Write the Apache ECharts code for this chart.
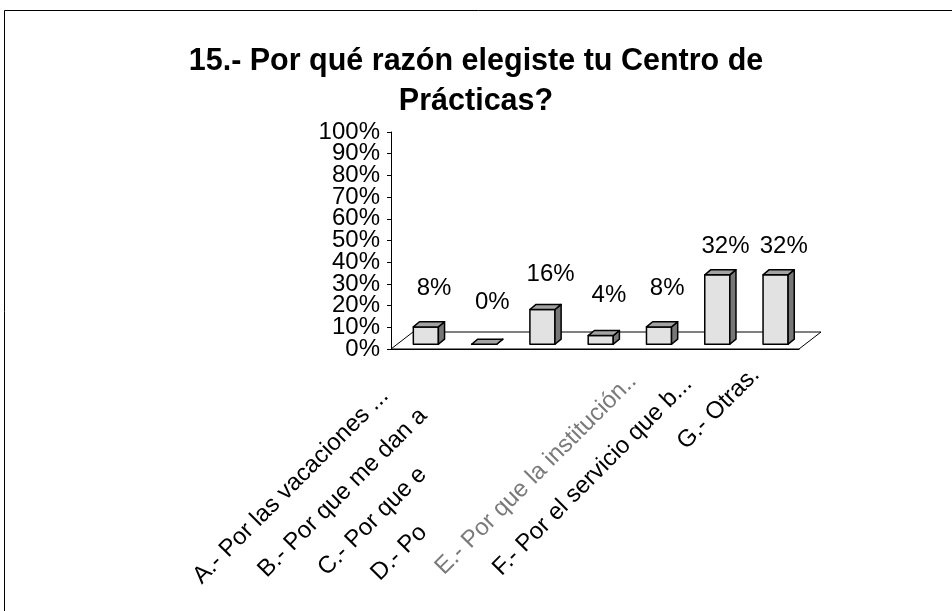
<!DOCTYPE html>
<html>
<head>
<meta charset="utf-8">
<script src="https://cdn.jsdelivr.net/npm/echarts@6/dist/echarts.min.js"></script>
<style>
  html, body { margin: 0; padding: 0; background: #fff; }
  #chart { width: 952px; height: 611px; }
</style>
</head>
<body>
<div id="chart"></div>
<script>
// data
const categories = [
  'A.- Por las vacaciones ...',
  'B.- Por que me dan a',
  'C.- Por que e',
  'D.- Po',
  'E.- Por que la institución..',
  'F.- Por el servicio que b...',
  'G.- Otras.'
];
const percentages = [8, 0, 16, 4, 8, 32, 32];
const titleText = '15.- Por qué razón elegiste tu Centro de\nPrácticas?';

// layout / look
const FONT = '"Liberation Sans", Arial, sans-serif';
const floorDepth = [22, -17];          // 3d floor offset in px
const labelPad = [50, 78, 161, 243, 29, 33, 20]; // push rotated labels down the slant
const labelColor = ['#000', '#000', '#000', '#000', '#7a7a7a', '#000', '#000'];

const rich = {};
labelPad.forEach((p, i) => {
  rich['c' + i] = { padding: [0, p, 0, 0], fontSize: 24, fontFamily: FONT, color: labelColor[i] };
});

const yLabelStyle = { fontSize: 24, fontFamily: FONT, color: '#000', margin: 11 };

const chart = echarts.init(document.getElementById('chart'));

chart.setOption({
  backgroundColor: '#fff',
  animation: false,
  title: {
    text: titleText,
    left: 'center',
    top: 37,
    textStyle: { fontSize: 30.5, fontWeight: 'bold', lineHeight: 40, fontFamily: FONT, color: '#000' }
  },
  graphic: [{
    type: 'rect',
    shape: { x: 4.5, y: 10.5, width: 1200, height: 1000 },
    style: { stroke: '#000', fill: 'none', lineWidth: 1 },
    silent: true,
    z: -10
  }],
  grid: { left: 391, right: 153, top: 132, bottom: 262 },
  xAxis: {
    type: 'category',
    data: categories,
    axisLine: { lineStyle: { color: '#000', width: 1 } },
    axisTick: { length: 6, lineStyle: { color: '#000' } },
    axisLabel: {
      rotate: 45,
      interval: 0,
      margin: 8,
      formatter: (v, i) => '{c' + i + '|' + v + '}',
      rich: rich
    }
  },
  // the labels sit closer than their line height, so odd and even ticks
  // are labelled by two stacked axes to keep echarts from dropping any
  yAxis: [
    {
      type: 'value', min: 0, max: 100, interval: 10,
      axisLine: { show: true, lineStyle: { color: '#000', width: 1 } },
      axisTick: { show: true, length: 4, lineStyle: { color: '#000' } },
      splitLine: { show: false },
      axisLabel: Object.assign({ formatter: v => (v % 20 ? v + '%' : '') }, yLabelStyle)
    },
    {
      type: 'value', min: 0, max: 100, interval: 20, position: 'left',
      axisLine: { show: false }, axisTick: { show: false }, splitLine: { show: false },
      axisLabel: Object.assign({ formatter: '{value}%' }, yLabelStyle)
    }
  ],
  series: [
    {
      // floor of the 3d plot
      type: 'custom',
      silent: true,
      z: 1,
      data: [[0, 0]],
      renderItem(params, api) {
        const cs = params.coordSys;
        const x0 = cs.x, x1 = cs.x + cs.width, y0 = cs.y + cs.height;
        const [dx, dy] = floorDepth;
        return {
          type: 'polygon',
          shape: { points: [[x0, y0], [x1, y0], [x1 + dx, y0 + dy], [x0 + dx, y0 + dy]] },
          style: { fill: 'none', stroke: '#000', lineWidth: 1 }
        };
      }
    },
    {
      type: 'custom',
      z: 3,
      data: percentages.map((v, i) => [i, v]),
      renderItem(params, api) {
        const i = api.value(0), v = api.value(1);
        const base = api.coord([i, 0]);
        const top = api.coord([i, v]);
        const cw = api.size([1, 0])[0];
        const w = cw * 0.43;
        const sx = floorDepth[0] * 0.26, sy = floorDepth[1] * 0.28;
        const dx = floorDepth[0] * 0.28, dy = floorDepth[1] * 0.3;
        const fx = base[0] - w / 2 + sx;
        const by = base[1] + sy;
        const ty = top[1] + sy;
        const stroke = { stroke: '#000', lineWidth: 1.5, lineJoin: 'round' };
        // excel's 3d labels rise a bit slower than the bars
        const ly = api.coord([i, v * 0.8 + 19.5])[1] + sy;
        return {
          type: 'group',
          children: [
            { type: 'polygon', shape: { points: [[fx, ty], [fx + w, ty], [fx + w, by], [fx, by]] },
              style: Object.assign({ fill: '#e2e2e2' }, stroke) },
            { type: 'polygon', shape: { points: [[fx + w, ty], [fx + w + dx, ty + dy], [fx + w + dx, by + dy], [fx + w, by]] },
              style: Object.assign({ fill: '#777' }, stroke) },
            { type: 'polygon', shape: { points: [[fx, ty], [fx + dx, ty + dy], [fx + w + dx, ty + dy], [fx + w, ty]] },
              style: Object.assign({ fill: '#a3a3a3' }, stroke) },
            { type: 'text', style: { text: v + '%', x: fx + w / 2 + dx + 2, y: ly, align: 'center', verticalAlign: 'middle',
              fontSize: 24, fontFamily: FONT, fill: '#000' } }
          ]
        };
      }
    }
  ]
});
</script>
</body>
</html>
